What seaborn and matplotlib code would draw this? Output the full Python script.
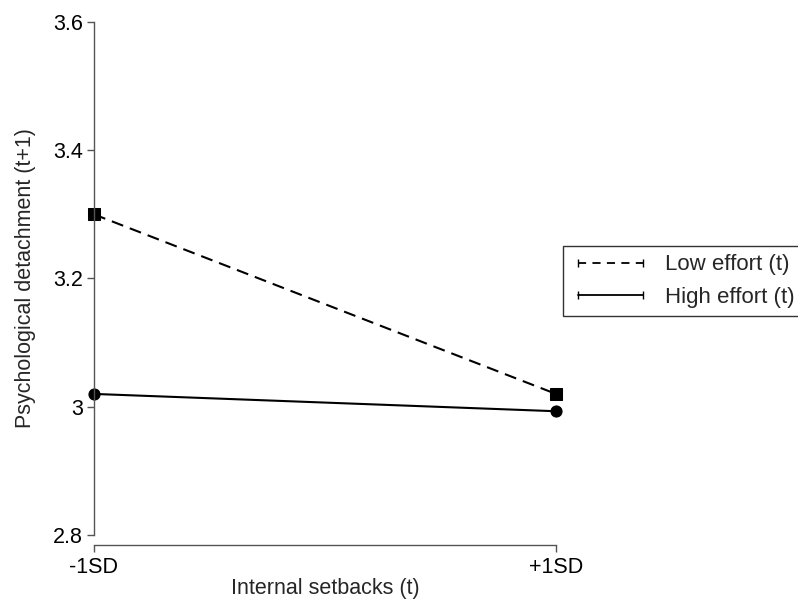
import pandas as pd
import matplotlib
matplotlib.use("Agg")
import matplotlib.pyplot as plt
import seaborn as sns
from matplotlib.lines import Line2D

# values
x_labels = ["-1SD", "+1SD"]
low_effort = [3.30, 3.02]
high_effort = [3.02, 2.993]
y_ticks = [2.8, 3.0, 3.2, 3.4, 3.6]
y_tick_labels = ["2.8", "3", "3.2", "3.4", "3.6"]

df = pd.DataFrame({
    "x": [0, 1, 0, 1],
    "y": low_effort + high_effort,
    "group": ["Low effort (t)"] * 2 + ["High effort (t)"] * 2,
})

sns.set_style("ticks")
plt.rcParams["font.family"] = ["Liberation Sans", "DejaVu Sans"]

fig = plt.figure(figsize=(7.98, 6.01), dpi=100)
ax = fig.add_axes([94 / 798, 66 / 601, 462 / 798, 513 / 601])

sns.lineplot(data=df, x="x", y="y", style="group",
             markers={"Low effort (t)": "s", "High effort (t)": "o"},
             dashes={"Low effort (t)": (5.8, 3.4), "High effort (t)": ""},
             color="black", markersize=8, linewidth=1.5,
             markeredgecolor="black", legend=False, ax=ax, clip_on=False)

ax.set_xlim(0, 1)
ax.set_ylim(2.8, 3.6)
ax.set_xticks([0, 1])
ax.set_xticklabels(x_labels)
ax.set_yticks(y_ticks)
ax.set_yticklabels(y_tick_labels)
ax.tick_params(labelsize=15.5, colors="#555555", labelcolor="black",
               length=5, width=1, pad=3)
ax.tick_params(axis="x", pad=4)
ax.set_xlabel("Internal setbacks (t)", fontsize=15.5, labelpad=0)
ax.set_ylabel("Psychological detachment (t+1)", fontsize=15.5, labelpad=12)

for s in ["top", "right"]:
    ax.spines[s].set_visible(False)
for s in ["left", "bottom"]:
    ax.spines[s].set_color("#555555")
    ax.spines[s].set_linewidth(1)
ax.spines["bottom"].set_position(("outward", 7))

handles = [
    Line2D([], [], color="black", linestyle=(0, (4.5, 3.5)), linewidth=1.3,
           marker="|", markersize=6),
    Line2D([], [], color="black", linestyle="-", linewidth=1.3,
           marker="|", markersize=6),
]
fig.legend(handles, ["Low effort (t)", "High effort (t)"],
           loc="upper left", bbox_to_anchor=(563 / 798, 1 - 246 / 601),
           borderaxespad=0, fontsize=16, frameon=True, fancybox=False,
           edgecolor="#333333", framealpha=1, handlelength=3.5,
           handletextpad=0.7, numpoints=2, labelspacing=0.5,
           borderpad=0.38)

fig.savefig("out.png", dpi=100)
